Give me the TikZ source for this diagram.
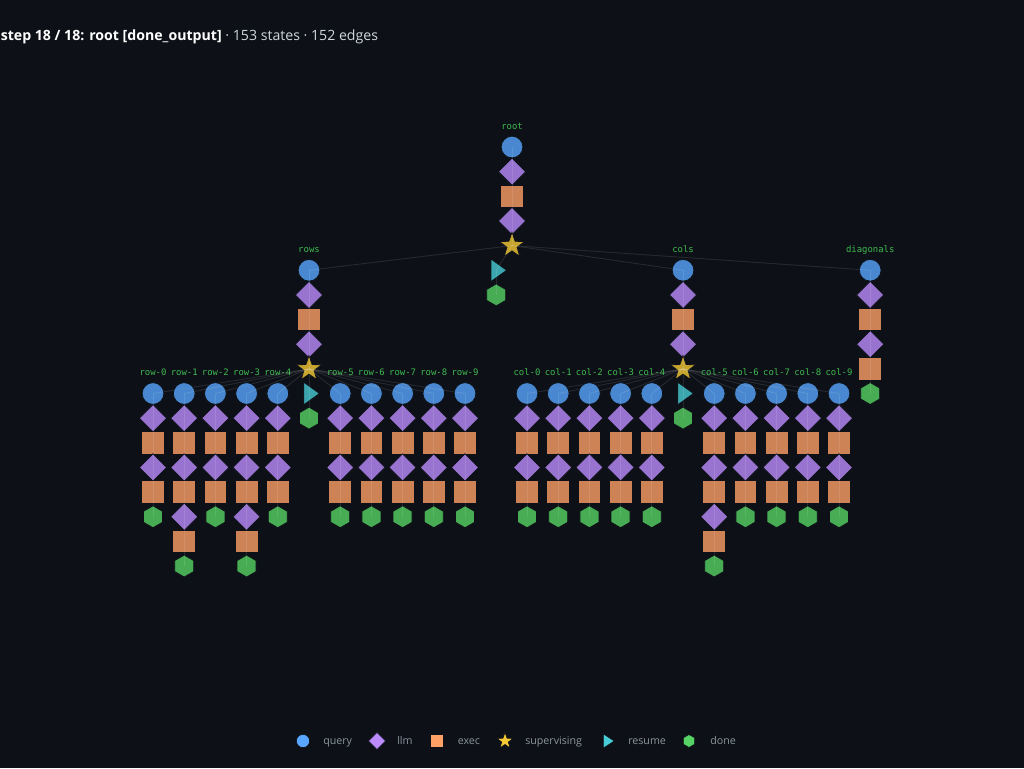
\documentclass[tikz,border=0pt]{standalone}
\usepackage{fontspec}
\setmainfont{Open Sans}
\newfontfamily\monof{DejaVu Sans Mono}
\usetikzlibrary{shapes.geometric}
\definecolor{bgc}{HTML}{0D1117}
\definecolor{cq}{HTML}{58A6FF}
\definecolor{cl}{HTML}{BC8CFF}
\definecolor{ce}{HTML}{FFA066}
\definecolor{cs}{HTML}{F5C933}
\definecolor{cr}{HTML}{48CCD6}
\definecolor{cd}{HTML}{56D364}
\definecolor{clbl}{HTML}{3FB950}
\definecolor{clegt}{HTML}{8B949E}
\definecolor{ctitle}{HTML}{D0D7DE}
\newcommand\vstep{24.65}
\newcommand\mkchain[4]{%
  \foreach \tp [count=\ii from 0] in {#4}{%
    \node[\tp] (#1-\ii) at (#2,{#3+\ii*\vstep}) {};
  }%
}
\newcommand\mkedges[2]{%
  \foreach \ii [evaluate=\ii as \jj using int(\ii+1)] in {0,...,#2}{%
    \draw[edge] (#1-\ii.center) -- (#1-\jj.center);
  }%
}
\newcommand\mkresume[2]{%
  \coordinate (#1) at #2;
  \filldraw[rsm, shift={(#1)}] (-5.2,-11.3) -- (10.5,0) -- (-5.2,11.3) -- cycle;
}
\begin{document}
\begin{tikzpicture}[x=0.75pt,y=-0.75pt,
  mk/.style={draw=bgc, line width=0.6pt, fill opacity=0.8, inner sep=0pt, outer sep=0pt},
  qry/.style={mk, circle, fill=cq, minimum size=16.3pt},
  llmn/.style={mk, diamond, fill=cl, minimum width=20.5pt, minimum height=20.5pt},
  exe/.style={mk, rectangle, fill=ce, minimum size=17pt},
  sup/.style={mk, star, star points=5, star point ratio=2.5, fill=cs, minimum size=20pt},
  dne/.style={mk, regular polygon, regular polygon sides=6, shape border rotate=30, fill=cd, minimum size=16.5pt},
  rsm/.style={draw=bgc, line width=0.6pt, fill=cr, fill opacity=0.8},
  edge/.style={draw=white, draw opacity=0.1, line width=0.7pt},
  lbl/.style={font=\monof\fontsize{6.7}{8}\selectfont, text=clbl, inner sep=0pt, anchor=base},
  leg/.style={font=\fontsize{8}{10}\selectfont, text=clegt, inner sep=0pt, anchor=base west},
  lmk/.style={draw=bgc, line width=0.5pt, inner sep=0pt, outer sep=0pt},
]
\fill[bgc] (0,0) rectangle (1024,768);
\useasboundingbox (0,0) rectangle (1024,768);

% title
\node[anchor=base west, inner sep=0pt, font=\fontsize{10.6}{12}\selectfont, text=ctitle] (title) at (0.5,40)
  {\textcolor{white}{\bfseries step 18 / 18: root [done\_output]} · 153 states · 152 edges};

% root
\mkchain{root}{512}{147}{qry,llmn,exe,llmn,sup}
\node[lbl] (lroot) at (512,129) {root};
\mkresume{rootres}{(496.2,270.25)}
\node[dne] (rootdone) at (496.2,294.9) {};

% rows
\mkchain{rows}{309}{270.25}{qry,llmn,exe,llmn,sup}
\node[lbl] (lrows) at (309,252.25) {rows};
\mkresume{rowsres}{(309,393.5)}
\node[dne] (rowsdone) at (309,418.15) {};

% cols
\mkchain{cols}{683}{270.25}{qry,llmn,exe,llmn,sup}
\node[lbl] (lcols) at (683,252.25) {cols};
\mkresume{colsres}{(683,393.5)}
\node[dne] (colsdone) at (683,418.15) {};

% diagonals
\mkchain{diag}{870.2}{270.25}{qry,llmn,exe,llmn,exe,dne}
\node[lbl] (ldiag) at (870.2,252.25) {diagonals};

% row children
\foreach \k/\xx in {0/153,2/215.4,4/277.8,5/340.2,6/371.4,7/402.6,8/433.8,9/465}{%
  \mkchain{row\k}{\xx}{393.5}{qry,llmn,exe,llmn,exe,dne}
  \node[lbl] (lrow\k) at (\xx,375.5) {row-\k};
  \mkedges{row\k}{4}
  \draw[edge] (rows-4.center) -- (row\k-0.center);
}
\foreach \k/\xx in {1/184.2,3/246.6}{%
  \mkchain{row\k}{\xx}{393.5}{qry,llmn,exe,llmn,exe,llmn,exe,dne}
  \node[lbl] (lrow\k) at (\xx,375.5) {row-\k};
  \mkedges{row\k}{6}
  \draw[edge] (rows-4.center) -- (row\k-0.center);
}
% col children
\foreach \k/\xx in {0/527,1/558.2,2/589.4,3/620.6,4/651.8,6/745.4,7/776.6,8/807.8,9/839}{%
  \mkchain{col\k}{\xx}{393.5}{qry,llmn,exe,llmn,exe,dne}
  \node[lbl] (lcol\k) at (\xx,375.5) {col-\k};
  \mkedges{col\k}{4}
  \draw[edge] (cols-4.center) -- (col\k-0.center);
}
\foreach \k/\xx in {5/714.2}{%
  \mkchain{col\k}{\xx}{393.5}{qry,llmn,exe,llmn,exe,llmn,exe,dne}
  \node[lbl] (lcol\k) at (\xx,375.5) {col-\k};
  \mkedges{col\k}{6}
  \draw[edge] (cols-4.center) -- (col\k-0.center);
}

% main edges
\mkedges{root}{3}
\mkedges{rows}{3}
\mkedges{cols}{3}
\mkedges{diag}{4}
\draw[edge] (root-4.center) -- (rows-0.center);
\draw[edge] (root-4.center) -- (cols-0.center);
\draw[edge] (root-4.center) -- (diag-0.center);
\draw[edge] (root-4.center) -- (rootres);
\draw[edge] (rootres) -- (rootdone.center);
\draw[edge] (rows-4.center) -- (rowsres);
\draw[edge] (rowsres) -- (rowsdone.center);
\draw[edge] (cols-4.center) -- (colsres);
\draw[edge] (colsres) -- (colsdone.center);

% legend
\node[lmk, circle, fill=cq, minimum size=10pt] (lg1) at (303,741) {};
\node[leg] (lt1) at (323,744.5) {query};
\node[lmk, diamond, fill=cl, minimum width=12.8pt, minimum height=12.8pt] (lg2) at (377,741) {};
\node[leg] (lt2) at (397,744.5) {llm};
\node[lmk, rectangle, fill=ce, minimum size=9.8pt] (lg3) at (437,741) {};
\node[leg] (lt3) at (457.5,744.5) {exec};
\node[lmk, star, star points=5, star point ratio=2.5, fill=cs, minimum size=13pt] (lg4) at (505,741) {};
\node[leg] (lt4) at (525,744.5) {supervising};
\coordinate (lg5) at (607,741);
\filldraw[draw=bgc, line width=0.5pt, fill=cr, shift={(lg5)}] (-3.7,-7.2) -- (7.3,0) -- (-3.7,7.2) -- cycle;
\node[leg] (lt5) at (628,744.5) {resume};
\node[lmk, regular polygon, regular polygon sides=6, shape border rotate=30, fill=cd, minimum size=9.8pt] (lg6) at (689,741) {};
\node[leg] (lt6) at (710,744.5) {done};
\end{tikzpicture}
\end{document}
